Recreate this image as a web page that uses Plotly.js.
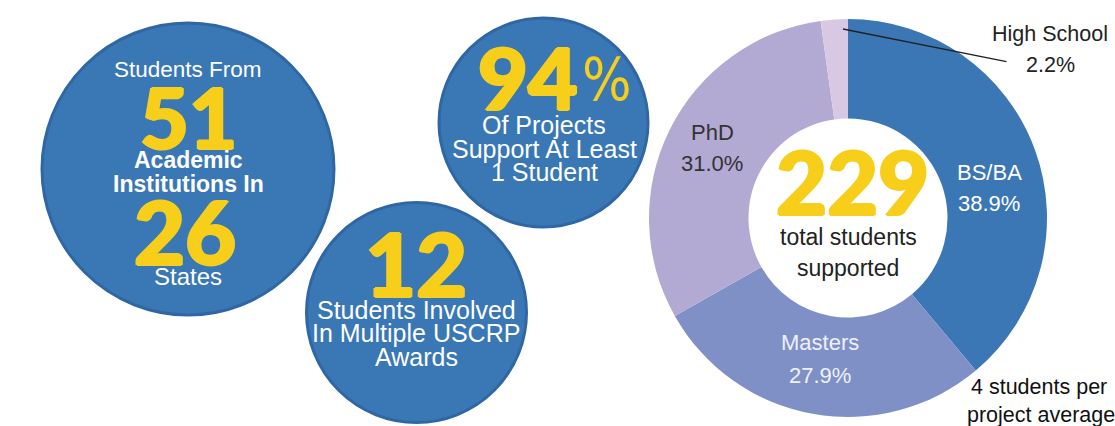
<!DOCTYPE html>
<html>
<head>
<meta charset="utf-8">
<script src="https://cdn.plot.ly/plotly-3.0.1.min.js"></script>
<style>html,body{margin:0;padding:0;background:#fff;}#chart{width:1115px;height:426px;}</style>
</head>
<body>
<div id="chart"></div>
<script>
// Pie data
const levels = ["BS/BA", "Masters", "PhD", "High School"];
const shares = [38.9, 27.9, 31.0, 2.2];
const sliceColors = ["#3b77b5", "#7f90c6", "#b2aad3", "#d9c8e3"];
const labelColors = ["#ffffff", "#eef0f8", "#333333", "#222222"];
// Stat bubbles
const totalStudents = "229";
const institutions = "51";
const states = "26";
const projectShare = "94";
const multiAward = "12";

const BLUE = "#3a77b5", EDGE = "#2f67a4", YEL = "#f7cf1b";
const SANS = "Liberation Sans, Arial, sans-serif";
const HEAVY = "Lato, Inter, sans-serif";
const THICK = "1.4px 0 0 " + YEL + ", -1.4px 0 0 " + YEL + ", 0 1.2px 0 " + YEL + ", 0 -1.2px 0 " + YEL;

const pie = {
  type: "pie",
  labels: levels,
  values: shares,
  sort: false,
  direction: "clockwise",
  rotation: 0,
  hole: 0.5,
  marker: {colors: sliceColors, line: {width: 0}},
  textinfo: "none",
  hoverinfo: "label+percent",
  domain: {x: [(848 - 199) / 1115, (848 + 199) / 1115], y: [(208 - 199) / 426, (208 + 199) / 426]},
  showlegend: false
};

function circ(cx, cy, r) {
  return {type: "circle", xref: "x", yref: "y", x0: cx - r, x1: cx + r, y0: cy - r, y1: cy + r,
    fillcolor: BLUE, line: {color: EDGE, width: 3}, layer: "below"};
}
function txt(x, y, t, size, color, family, weight, shadow) {
  const f = {family: family || SANS, size: size, color: color || "#ffffff", weight: weight || 400};
  if (shadow) f.shadow = shadow;
  return {x: x, y: y, xref: "x", yref: "y", text: t, showarrow: false, xanchor: "center", yanchor: "middle", font: f};
}

// slice label anchor points (label line, value line)
const labelPos = [[989, 172, 203], [820, 342, 375], [712, 132, 163]];

const annotations = [
  // circle 1
  txt(188, 69, "Students From", 22.5),
  txt(188, 116, institutions, 84, YEL, HEAVY, 900, THICK),
  txt(188, 160, "Academic", 23, "#fff", SANS, 700),
  txt(188, 184, "Institutions In", 23, "#fff", SANS, 700),
  txt(185, 231, states, 88, YEL, HEAVY, 900, THICK),
  txt(188, 276, "States", 24),
  // circle 3
  {x: 580, y: 76, xref: "x", yref: "y", text: projectShare, showarrow: false, xanchor: "right", yanchor: "middle",
    font: {family: HEAVY, size: 86, color: YEL, weight: 900, shadow: THICK}},
  {x: 580, y: 80, xref: "x", yref: "y", text: "%", showarrow: false, xanchor: "left", yanchor: "middle",
    font: {family: "Liberation Sans Narrow, DejaVu Sans Condensed, Liberation Sans, sans-serif", size: 58, color: YEL, weight: 300}},
  txt(544, 125, "Of Projects", 25),
  txt(544, 149, "Support At Least", 25),
  txt(544, 172, "1 Student", 25),
  // circle 2
  txt(416, 263, multiAward, 88, YEL, HEAVY, 900, THICK),
  txt(416, 310, "Students Involved", 25),
  txt(416, 333, "In Multiple USCRP", 25),
  txt(416, 357, "Awards", 25),
  // donut centre
  txt(852, 181, totalStudents, 88, YEL, HEAVY, 900, THICK),
  txt(848, 237, "total students", 23, "#222"),
  txt(848, 268, "supported", 23, "#222"),
  // High School outside label
  {x: 843, y: 29, xref: "x", yref: "y", ax: 1008, ay: 62, axref: "x", ayref: "y",
    text: "", showarrow: true, arrowhead: 0, arrowwidth: 1.3, arrowcolor: "#222"},
  txt(1050, 34, levels[3], 21.5, "#222"),
  txt(1050, 65, shares[3].toFixed(1) + "%", 21.5, "#222"),
  // note
  txt(1039, 387, "4 students per", 21.5, "#111"),
  txt(1041, 415, "project average", 21.5, "#111")
];
labelPos.forEach((p, i) => {
  annotations.push(txt(p[0], p[1], levels[i], 22, labelColors[i]));
  annotations.push(txt(p[0], p[2], shares[i].toFixed(1) + "%", 22, labelColors[i]));
});

const layout = {
  width: 1115, height: 426,
  margin: {l: 0, r: 0, t: 0, b: 0, pad: 0},
  paper_bgcolor: "#ffffff", plot_bgcolor: "rgba(0,0,0,0)",
  xaxis: {range: [0, 1115], visible: false, fixedrange: true, domain: [0, 1]},
  yaxis: {range: [426, 0], visible: false, fixedrange: true, domain: [0, 1]},
  shapes: [circ(188, 169, 146), circ(416.5, 312.5, 110), circ(543.5, 122.5, 104.5)],
  annotations: annotations,
  showlegend: false
};

Plotly.newPlot("chart", [pie], layout, {staticPlot: true, displayModeBar: false});
</script>
</body>
</html>
